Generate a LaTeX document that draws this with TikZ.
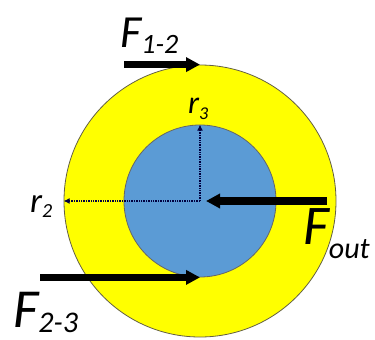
\documentclass[tikz,border=0pt]{standalone}
\usepackage{fontspec}
\setmainfont{Carlito}
\usepackage{xcolor}
\usetikzlibrary{arrows.meta, positioning}
\definecolor{ringyellow}{RGB}{255,255,0}
\definecolor{discblue}{RGB}{91,155,213}

\begin{document}
\begin{tikzpicture}[x=1pt, y=-1pt,
    force/.style={line width=7.5pt, -{Triangle[length=14pt,width=14pt]}},
    radius line/.style={densely dotted, line width=1.4pt, draw=black!75!blue, -{Latex[length=6pt,width=6pt]}},
    label/.style={inner sep=0pt, anchor=base west, font=\itshape}]
\useasboundingbox (0,0) rectangle (375,340);
% gear wheels
\coordinate (c) at (200,201);
\node[circle, draw=black!70!yellow, line width=0.8pt, fill=ringyellow, minimum size=272pt, inner sep=0pt] (outer) at (c) {};
\node[circle, draw=black!60, line width=0.8pt, fill=discblue, minimum size=152pt, inner sep=0pt] (inner) at (c) {};
% radii
\draw[radius line] (c) -- (inner.north);
\draw[radius line] (c) -- (outer.west);
% forces
\coordinate[left=76pt of outer.north] (f12 tail);
\coordinate[left=160pt of inner.south] (f23 tail);
\coordinate[right=127pt of c] (fout tail);
\draw[force] (f12 tail) -- (outer.north);
\draw[force] (f23 tail) -- (inner.south);
\draw[force, shorten >=6pt] (fout tail) -- (c);
% labels
\node[label, font=\fontsize{46}{46}\selectfont\itshape] (f12) at (120,47) {F\raisebox{-6pt}{\fontsize{28}{28}\selectfont 1-2}};
\node[label, font=\fontsize{56}{56}\selectfont\itshape] (fout) at (303,244) {F\raisebox{-14pt}{\fontsize{30}{30}\selectfont out}};
\node[label, font=\fontsize{55}{55}\selectfont\itshape] (f23) at (13,327) {F\raisebox{-5pt}{\fontsize{30}{30}\selectfont 2-3}};
\node[label, font=\fontsize{32}{32}\selectfont\itshape] (r3) at (188,113) {r\raisebox{-6pt}{\fontsize{18}{18}\selectfont 3}};
\node[label, font=\fontsize{35}{35}\selectfont\itshape] (r2) at (30,212) {r\raisebox{-5pt}{\fontsize{20}{20}\selectfont 2}};
\end{tikzpicture}
\end{document}
